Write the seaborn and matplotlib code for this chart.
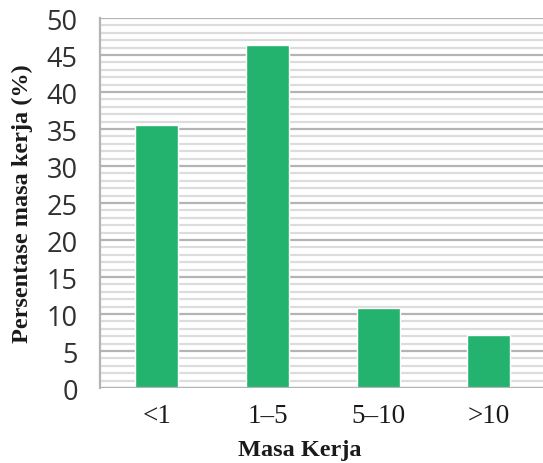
import matplotlib
matplotlib.use("Agg")
import matplotlib.pyplot as plt
from matplotlib.ticker import MultipleLocator
import seaborn as sns
import pandas as pd

# Distribution of working tenure (years) as a percentage
categories = ["<1", "1\u20135", "5\u201310", ">10"]
percentages = [35.6, 46.4, 10.8, 7.1]

df = pd.DataFrame({"Masa Kerja": categories, "Persentase": percentages})

sns.set_theme(style="white")
plt.rcParams["font.family"] = ["DejaVu Sans"]

fig = plt.figure(figsize=(5.43, 4.64), dpi=100)
ax = fig.add_axes([0.184, 0.1616, 0.816, 0.7974])

sns.barplot(data=df, x="Masa Kerja", y="Persentase", color="#24b36f",
            width=0.39, saturation=1, ax=ax, zorder=3)

ax.set_xlim(-0.515, 3.49)
ax.set_ylim(0, 50)
ax.yaxis.set_major_locator(MultipleLocator(5))
ax.yaxis.set_minor_locator(MultipleLocator(1))

ax.grid(which="major", axis="y", color="#b4b4b4", linewidth=1.6, zorder=0)
ax.grid(which="minor", axis="y", color="#dcdcdc", linewidth=1.6, zorder=0)
ax.set_axisbelow(True)

for side in ["top", "right", "bottom"]:
    ax.spines[side].set_visible(False)
ax.spines["left"].set_color("#b4b4b4")
ax.spines["left"].set_linewidth(1.6)

ax.tick_params(axis="y", which="major", direction="out", length=6,
               width=1.6, color="#b4b4b4", pad=10, labelsize=19.5,
               labelcolor="#303030", labelfontfamily="Open Sans")
ax.tick_params(axis="y", which="minor", length=0)
ax.tick_params(axis="x", length=0, pad=11, labelsize=19.5,
               labelcolor="#1a1a1a", labelfontfamily="Liberation Serif")

# bottom axis line across full width
ax.axhline(0, color="#b4b4b4", linewidth=1.6, zorder=4)

ax.set_xlabel("Masa Kerja", fontfamily="Liberation Serif", fontweight="bold",
              fontsize=17.5, color="#1a1a1a")
ax.xaxis.set_label_coords(0.452, -0.138)
ax.set_ylabel("Persentase masa kerja (%)", fontfamily="Liberation Serif",
              fontweight="bold", fontsize=17.5, color="#1a1a1a")
ax.yaxis.set_label_coords(-0.152, 0.5)

fig.savefig("out.png", dpi=100)
